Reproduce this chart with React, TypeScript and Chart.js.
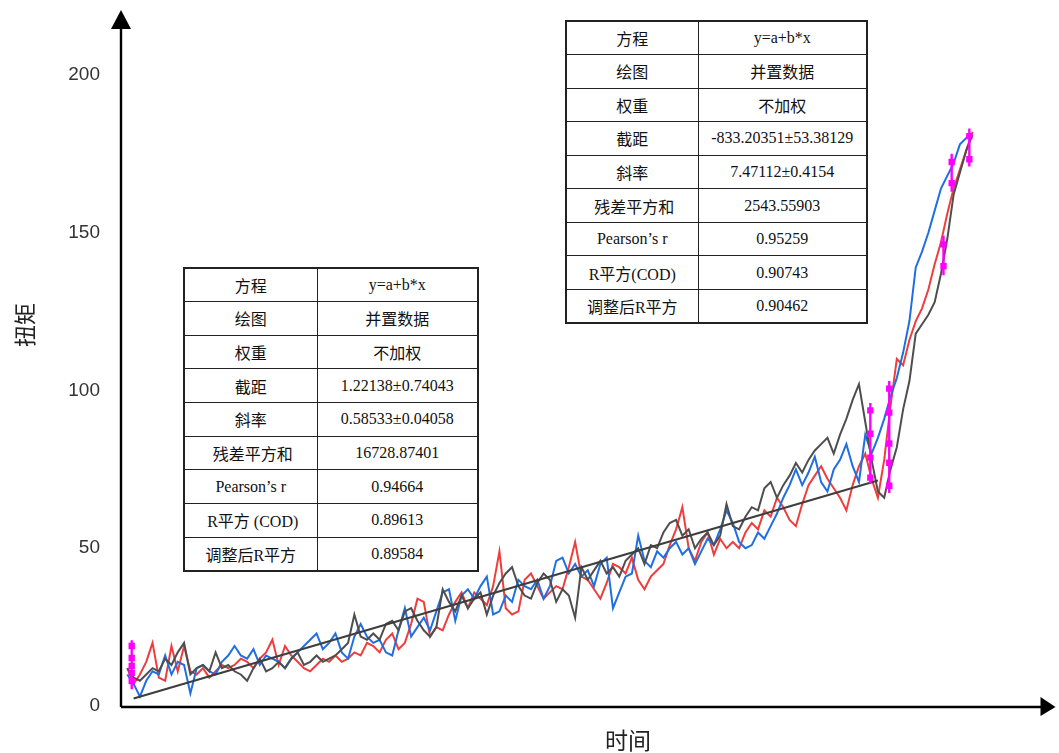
import React, { useEffect, useRef } from "react";
import { Chart, registerables } from "chart.js";

Chart.register(...registerables);

// ---- data ----
const redTorque = [
  12, 7, 10, 14, 20, 9, 8, 19, 11, 19,
  11, 10, 12, 9, 11, 13, 12, 13, 15, 14,
  12, 15, 17, 21, 13, 19, 16, 14, 12, 11,
  13, 15, 14, 16, 14, 15, 17, 16, 20, 19,
  17, 21, 23, 18, 20, 26, 34, 33, 22, 25,
  24, 29, 33, 36, 31, 36, 34, 32, 38, 49,
  31, 29, 30, 40, 42, 38, 34, 36, 38, 37,
  44, 52, 41, 40, 37, 34, 39, 45, 44, 42,
  47, 40, 37, 41, 43, 45, 51, 56, 63, 50,
  46, 52, 55, 48, 53, 50, 52, 50, 55, 58,
  56, 62, 60, 66, 63, 59, 57, 64, 70, 73,
  76, 72, 69, 66, 62, 70, 76, 80, 72, 66,
  78, 95, 110, 108, 116, 122, 126, 132, 140, 147,
  156, 164, 170, 176, 182,
];

const blueTorque = [
  10, 7, 3, 8, 11, 10, 16, 10, 14, 13,
  4, 12, 13, 11, 10, 14, 16, 19, 16, 15,
  18, 13, 16, 15, 14, 12, 15, 17, 19, 21,
  23, 18, 20, 23, 17, 15, 22, 26, 22, 20,
  21, 17, 16, 24, 31, 22, 25, 28, 24, 30,
  36, 37, 27, 35, 37, 34, 38, 41, 29, 30,
  35, 33, 40, 38, 37, 40, 34, 38, 46, 47,
  42, 45, 41, 43, 38, 45, 47, 31, 36, 41,
  42, 54, 46, 44, 49, 47, 50, 52, 48, 50,
  45, 49, 53, 51, 56, 62, 58, 52, 50, 51,
  55, 53, 57, 61, 66, 70, 75, 70, 74, 79,
  71, 68, 75, 78, 83, 76, 71, 86, 80, 85,
  91, 98, 104, 112, 122, 139, 144, 150, 157, 164,
  168, 172, 178, 180, 181,
];

const grayTorque = [
  12, 9, 8, 10, 12, 11, 15, 13, 17, 20,
  10, 12, 13, 11, 17, 12, 13, 11, 10, 8,
  12, 15, 11, 12, 14, 12, 15, 17, 13, 14,
  16, 14, 15, 16, 18, 20, 29, 22, 21, 23,
  21, 26, 27, 24, 30, 31, 27, 24, 22, 25,
  37, 33, 30, 35, 31, 34, 36, 29, 35, 39,
  42, 44, 38, 35, 34, 39, 42, 40, 33, 37,
  35, 28, 44, 40, 43, 46, 42, 44, 41, 46,
  48, 50, 45, 51, 50, 55, 58, 59, 54, 56,
  50, 53, 55, 51, 54, 64, 57, 56, 60, 63,
  62, 69, 71, 66, 70, 73, 77, 74, 78, 81,
  83, 85, 80, 86, 91, 97, 102, 90, 78, 68,
  66, 75, 82, 94, 103, 118, 121, 124, 128, 137,
  148, 162, 169, 176, 181,
];

// sample index along the time axis
const timeIndex = redTorque.map((_, i) => i + 1);

// magenta marked points (time, values) and their vertical extent
const markerTimes = [1.7, 118.8, 121.8, 130.4, 131.7, 134.5];
const markerValues = [
  [19, 15.2, 12.7, 10.5, 7.9],
  [93.7, 86.3, 78.7, 72.4],
  [100.6, 93, 83.2, 77.1, 69.8],
  [146.3, 139.4],
  [172.4, 165.7],
  [180.6, 173.3],
];
const markerTop = [20.8, 96, 103, 149, 175, 183];
const markerBottom = [5.3, 70.5, 67.5, 136.5, 163, 171];

// linear fit 1 (left table)
const fitIntercept = 1.22138;
const fitSlope = 0.58533;
const fitRange = [2, 120];

const yTickValues = [0, 50, 100, 150, 200];
const xMax = 148;
const yMax = 219;

const table1Labels = ["方程", "绘图", "权重", "截距", "斜率", "\u00a0残差平方和", "Pearson’s r", "\u00a0R平方 (COD)", "调整后R平方"];
const table1Values = ["y=a+b*x", "并置数据", "不加权", "1.22138±0.74043", "0.58533±0.04058", "16728.87401", "0.94664", "0.89613", "0.89584"];
const table2Labels = ["方程", "绘图", "权重", "截距", "斜率", "\u00a0残差平方和", "Pearson’s r", "R平方(COD)", "调整后R平方"];
const table2Values = ["y=a+b*x", "并置数据", "不加权", "-833.20351±53.38129", "7.47112±0.4154", "2543.55903", "0.95259", "0.90743", "0.90462"];

const axisArrows = {
  id: "axisArrows",
  afterDatasetsDraw(chart: any) {
    const { ctx, chartArea } = chart;
    const { left, right, bottom, top } = chartArea;
    const axisY = bottom + 1;
    ctx.save();
    ctx.strokeStyle = "#000";
    ctx.fillStyle = "#000";
    ctx.lineWidth = 2.4;
    ctx.beginPath();
    ctx.moveTo(left, axisY);
    ctx.lineTo(left, top + 10);
    ctx.stroke();
    ctx.beginPath();
    ctx.moveTo(left, axisY);
    ctx.lineTo(right - 10, axisY);
    ctx.stroke();
    // up arrow
    ctx.beginPath();
    ctx.moveTo(left, top - 5);
    ctx.lineTo(left - 10, top + 14);
    ctx.lineTo(left + 10, top + 14);
    ctx.closePath();
    ctx.fill();
    // right arrow
    ctx.beginPath();
    ctx.moveTo(right + 1, axisY);
    ctx.lineTo(right - 14, axisY - 10);
    ctx.lineTo(right - 14, axisY + 9);
    ctx.closePath();
    ctx.fill();
    // axis titles
    ctx.fillStyle = "#222";
    ctx.textAlign = "center";
    ctx.textBaseline = "middle";
    ctx.font = '23px "Noto Sans CJK SC"';
    ctx.fillText("时间", left + 507, bottom + 34);
    ctx.translate(left - 96, top + 310);
    ctx.rotate(-Math.PI / 2);
    ctx.font = '22px "Noto Sans CJK SC"';
    ctx.fillText("扭矩", 0, 0);
    ctx.restore();
  },
};

function FitTable(props: { labels: string[]; values: string[]; left: number; top: number; width: number; height: number; col: number }) {
  const { labels, values, left, top, width, height, col } = props;
  const rowH = height / labels.length;
  const cell: React.CSSProperties = {
    border: "1px solid #222",
    textAlign: "center",
    verticalAlign: "middle",
    padding: 0,
    whiteSpace: "nowrap",
    overflow: "hidden",
  };
  return (
    <table
      style={{
        position: "absolute",
        left,
        top,
        width,
        height,
        borderCollapse: "collapse",
        tableLayout: "fixed",
        background: "#fff",
        border: "2px solid #222",
        fontFamily: '"Liberation Serif", "Noto Sans CJK SC", serif',
        fontSize: 16,
        color: "#111",
      }}
    >
      <colgroup>
        <col style={{ width: col }} />
        <col />
      </colgroup>
      <tbody>
        {labels.map((l, i) => (
          <tr key={i} style={{ height: rowH }}>
            <td style={cell}>{l}</td>
            <td style={cell}>{values[i]}</td>
          </tr>
        ))}
      </tbody>
    </table>
  );
}

export default function App() {
  const canvasRef = useRef<HTMLCanvasElement | null>(null);

  useEffect(() => {
    if (!canvasRef.current) return;
    const series = (vals: number[]) => timeIndex.map((t, i) => ({ x: t, y: vals[i] }));
    const fitData = fitRange.map((t) => ({ x: t, y: fitIntercept + fitSlope * t }));
    const markerLineData: any[] = [];
    const markerPointData: any[] = [];
    markerTimes.forEach((t, g) => {
      markerLineData.push({ x: t, y: markerTop[g] }, { x: t, y: markerBottom[g] }, { x: t, y: null });
      markerValues[g].forEach((v) => markerPointData.push({ x: t, y: v }));
    });
    const lineCommon = { pointRadius: 0, borderWidth: 2, tension: 0, fill: false };
    const chart = new Chart(canvasRef.current, {
      type: "line",
      data: {
        datasets: [
          { label: "red", data: series(redTorque), borderColor: "#ef3d3d", order: 4, ...lineCommon },
          { label: "blue", data: series(blueTorque), borderColor: "#1f6fe3", order: 3, ...lineCommon },
          { label: "gray", data: series(grayTorque), borderColor: "#4e4e4e", order: 2, ...lineCommon },
          { label: "fit", data: fitData, borderColor: "#3e3e3e", order: 1, ...lineCommon, borderWidth: 2.2 },
          { label: "markLine", data: markerLineData, borderColor: "#ff00ff", order: 0, spanGaps: false, ...lineCommon, borderWidth: 2.4 },
          {
            label: "markPts",
            data: markerPointData,
            showLine: false,
            borderColor: "#ff00ff",
            backgroundColor: "#ff00ff",
            pointStyle: "rect",
            pointRadius: 4.5,
            pointBorderWidth: 0,
            order: -1,
          },
        ] as any,
      },
      options: {
        responsive: true,
        maintainAspectRatio: false,
        animation: false,
        layout: { padding: { top: 15, right: 2, bottom: 47, left: 0 } },
        plugins: { legend: { display: false }, tooltip: { enabled: false } },
        scales: {
          x: { type: "linear", min: 0, max: xMax, display: false },
          y: {
            type: "linear",
            min: 0,
            max: yMax,
            border: { display: false },
            grid: { display: false, drawTicks: false },
            ticks: { padding: 21, color: "#333", font: { family: '"Liberation Sans", sans-serif', size: 19 } },
            afterBuildTicks: (s: any) => {
              s.ticks = yTickValues.map((v) => ({ value: v }));
            },
            afterFit: (s: any) => {
              s.width = 121;
              s.paddingTop = 0;
              s.paddingBottom = 0;
            },
          },
        },
      } as any,
      plugins: [axisArrows],
    });
    return () => chart.destroy();
  }, []);

  return (
    <div style={{ position: "absolute", left: 0, top: 0, width: 1059, height: 753, background: "#fff" }}>
      <canvas ref={canvasRef} />
      <FitTable labels={table1Labels} values={table1Values} left={183} top={267} width={296} height={303} col={133} />
      <FitTable labels={table2Labels} values={table2Values} left={565} top={20} width={303} height={302} col={132} />
    </div>
  );
}
